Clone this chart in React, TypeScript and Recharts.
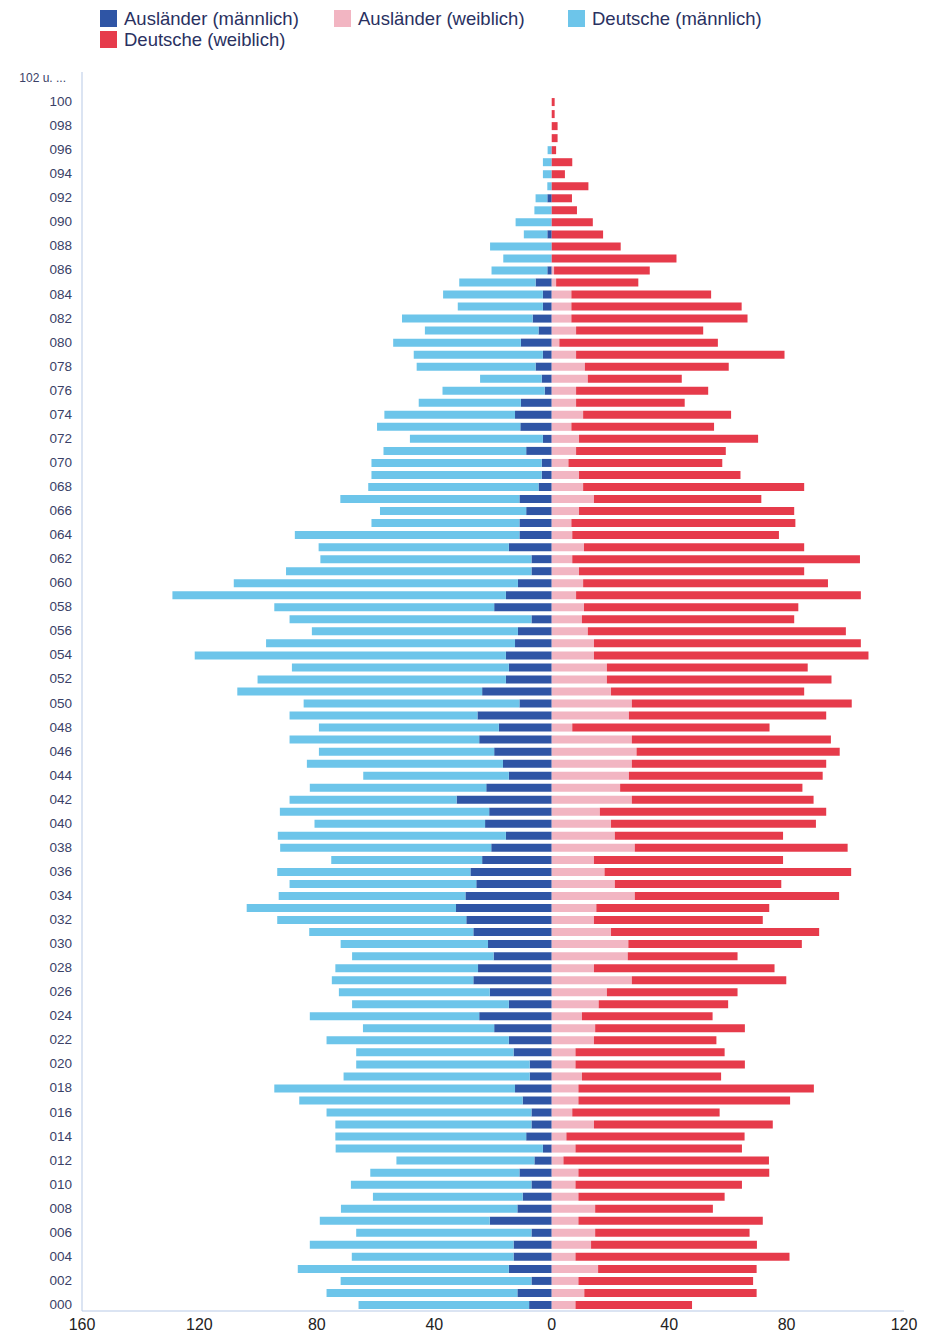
import { BarChart, Bar, XAxis, YAxis } from 'recharts';

// Altersjahre 000 .. 102 u. ...
const ages = [
    '000', '001', '002', '003', '004', '005', '006', '007', '008', '009',
    '010', '011', '012', '013', '014', '015', '016', '017', '018', '019',
    '020', '021', '022', '023', '024', '025', '026', '027', '028', '029',
    '030', '031', '032', '033', '034', '035', '036', '037', '038', '039',
    '040', '041', '042', '043', '044', '045', '046', '047', '048', '049',
    '050', '051', '052', '053', '054', '055', '056', '057', '058', '059',
    '060', '061', '062', '063', '064', '065', '066', '067', '068', '069',
    '070', '071', '072', '073', '074', '075', '076', '077', '078', '079',
    '080', '081', '082', '083', '084', '085', '086', '087', '088', '089',
    '090', '091', '092', '093', '094', '095', '096', '097', '098', '099',
    '100', '101', '102 u. ...',
];

const auslaenderM = [
    7.7, 11.7, 6.9, 14.6, 13.0, 13.0, 6.9, 21.1, 11.7, 9.9,
    6.9, 11.0, 5.9, 3.0, 8.7, 6.9, 6.9, 9.9, 12.5, 7.5,
    7.5, 13.0, 14.6, 19.6, 24.7, 14.6, 21.1, 26.7, 25.1, 19.8,
    21.7, 26.7, 29.1, 32.6, 29.4, 25.7, 27.7, 23.7, 20.6, 15.6,
    22.7, 21.3, 32.4, 22.3, 14.6, 16.6, 19.6, 24.7, 18.0, 25.3,
    11.0, 23.7, 15.6, 14.6, 15.6, 12.5, 11.5, 6.9, 19.6, 15.6,
    11.5, 6.9, 6.9, 14.6, 11.0, 11.0, 8.7, 11.0, 4.5, 3.4,
    3.4, 8.7, 3.0, 10.7, 12.5, 10.5, 2.4, 3.4, 5.5, 3.0,
    10.5, 4.5, 6.5, 3.0, 3.0, 5.5, 1.5, 0, 0, 1.5,
    0, 0, 1.5, 0, 0, 0, 0, 0, 0, 0,
    0, 0, 0,
];

const auslaenderW = [
    8.1, 11.1, 9.1, 15.8, 8.1, 13.4, 14.8, 9.1, 14.8, 9.1,
    8.1, 9.1, 4.0, 8.1, 5.0, 14.4, 7.0, 9.1, 9.1, 10.3,
    8.1, 8.1, 14.4, 14.8, 10.3, 16.0, 18.8, 27.3, 14.4, 25.9,
    26.1, 20.2, 14.4, 15.2, 28.3, 21.5, 18.0, 14.4, 28.3, 21.5,
    20.2, 16.4, 27.3, 23.3, 26.3, 27.3, 28.9, 27.3, 7.0, 26.3,
    27.3, 20.2, 18.8, 18.8, 14.4, 14.4, 12.3, 10.3, 11.0, 8.3,
    10.7, 9.3, 7.0, 11.0, 7.0, 6.7, 9.3, 14.4, 10.7, 9.3,
    5.7, 8.3, 9.3, 6.7, 10.7, 8.3, 8.3, 12.3, 11.3, 8.3,
    2.6, 8.3, 6.7, 6.7, 6.7, 1.5, 0.8, 0, 0, 0,
    0, 0, 0, 0, 0, 0, 0, 0, 0, 0,
    0, 0, 0,
];

const deutscheM = [
    58.1, 65.0, 65.0, 71.9, 55.1, 69.4, 59.7, 57.9, 60.1, 51.0,
    61.5, 50.8, 47.0, 70.6, 65.0, 66.8, 69.8, 76.1, 82.0, 63.4,
    59.1, 53.6, 62.1, 44.7, 57.7, 53.4, 51.4, 48.2, 48.6, 48.2,
    50.2, 55.9, 64.4, 71.3, 63.6, 63.6, 65.8, 51.4, 71.9, 77.7,
    58.1, 71.3, 56.9, 60.1, 49.6, 66.8, 59.7, 64.6, 61.3, 64.0,
    73.5, 83.4, 84.6, 73.9, 106.0, 84.8, 70.2, 82.4, 74.9, 113.6,
    96.8, 83.6, 71.9, 64.8, 76.5, 50.4, 49.8, 61.0, 58.0, 58.0,
    58.0, 48.6, 45.3, 48.8, 44.5, 34.8, 34.8, 21.0, 40.5, 44.0,
    43.5, 38.7, 44.5, 29.0, 34.0, 26.0, 19.0, 16.5, 21.0, 8.0,
    12.3, 5.9, 4.0, 1.5, 3.0, 3.0, 1.4, 0, 0, 0,
    0, 0, 0,
];

const deutscheW = [
    39.7, 58.7, 59.5, 54.0, 72.9, 56.5, 52.6, 62.8, 40.1, 49.8,
    56.7, 65.0, 70.0, 56.7, 60.7, 60.9, 50.2, 72.1, 80.2, 47.4,
    57.7, 50.8, 41.7, 51.0, 44.5, 44.1, 44.5, 52.6, 61.5, 37.4,
    59.1, 70.9, 57.5, 58.9, 69.6, 56.7, 84.0, 64.4, 72.5, 57.3,
    69.8, 77.1, 61.9, 62.1, 66.0, 66.2, 69.2, 67.8, 67.2, 67.2,
    74.9, 65.8, 76.5, 68.4, 93.5, 90.9, 87.9, 72.3, 73.0, 97.0,
    83.4, 76.7, 98.0, 75.0, 70.4, 76.3, 73.3, 57.0, 75.3, 55.0,
    52.4, 51.0, 61.0, 48.6, 50.4, 37.0, 45.0, 32.0, 49.0, 71.0,
    54.0, 43.3, 60.0, 58.0, 47.6, 28.0, 32.6, 42.5, 23.5, 17.5,
    14.0, 8.6, 6.9, 12.5, 4.5, 7.0, 1.5, 2.0, 2.0, 1.0,
    1.0, 0, 0,
];

const xTicks = [-160, -120, -80, -40, 0, 40, 80, 120];

const series = [
    { key: 'auslaenderM', name: 'Ausländer (männlich)', color: '#2f55a5' },
    { key: 'auslaenderW', name: 'Ausländer (weiblich)', color: '#f2b5c2' },
    { key: 'deutscheM', name: 'Deutsche (männlich)', color: '#6dc5ea' },
    { key: 'deutscheW', name: 'Deutsche (weiblich)', color: '#e63b4b' },
];

// Männer nach links (negativ), Frauen nach rechts
const rows = ages.map((age, i) => ({
    age,
    auslaenderM: -auslaenderM[i],
    auslaenderW: auslaenderW[i],
    deutscheM: -deutscheM[i],
    deutscheW: deutscheW[i],
}));

const FONT = '"Liberation Sans", Arial, sans-serif';

function AgeTick({ x, y, payload }: any) {
    const long = String(payload.value).length > 3;
    return (
        <text x={long ? x - 6 : x} y={y} dy={4} textAnchor="end" fontSize={long ? 12 : 13.5} fill="#3a4167" fontFamily={FONT}>
            {payload.value}
        </text>
    );
}

export default function App() {
    return (
        <div style={{ position: 'absolute', left: 0, top: 0, width: 932, height: 1336, background: '#fff' }}>
            <div style={{ position: 'absolute', left: 100, top: 8, width: 720, display: 'flex', flexWrap: 'wrap', fontFamily: FONT, fontSize: 18.5, color: '#2a3161', zIndex: 2 }}>
                {series.map((s) => (
                    <div key={s.key} style={{ width: 234, height: 21, display: 'flex', alignItems: 'center' }}>
                        <span style={{ width: 17, height: 17, background: s.color, marginRight: 7, display: 'inline-block', flex: 'none' }} />
                        <span style={{ whiteSpace: 'nowrap' }}>{s.name}</span>
                    </div>
                ))}
            </div>
            <BarChart
                width={932}
                height={1336}
                data={rows}
                layout="vertical"
                stackOffset="sign"
                barSize={8}
                margin={{ top: 72, right: 28, bottom: 3, left: 12 }}
            >
                <XAxis
                    type="number"
                    domain={[-160, 120]}
                    ticks={xTicks}
                    tickFormatter={(v) => String(Math.abs(v))}
                    axisLine={{ stroke: '#b7c9e6' }}
                    tickLine={false}
                    height={22}
                    tick={{ fontSize: 16, fill: '#222', fontFamily: FONT }}
                />
                <YAxis
                    type="category"
                    dataKey="age"
                    reversed
                    interval={1}
                    width={70}
                    tickSize={8}
                    tickMargin={2}
                    tickLine={false}
                    axisLine={{ stroke: '#b7c9e6' }}
                    tick={<AgeTick />}
                />
                {series.map((s) => (
                    <Bar key={s.key} dataKey={s.key} name={s.name} stackId="a" fill={s.color} isAnimationActive={false} />
                ))}
            </BarChart>
        </div>
    );
}
